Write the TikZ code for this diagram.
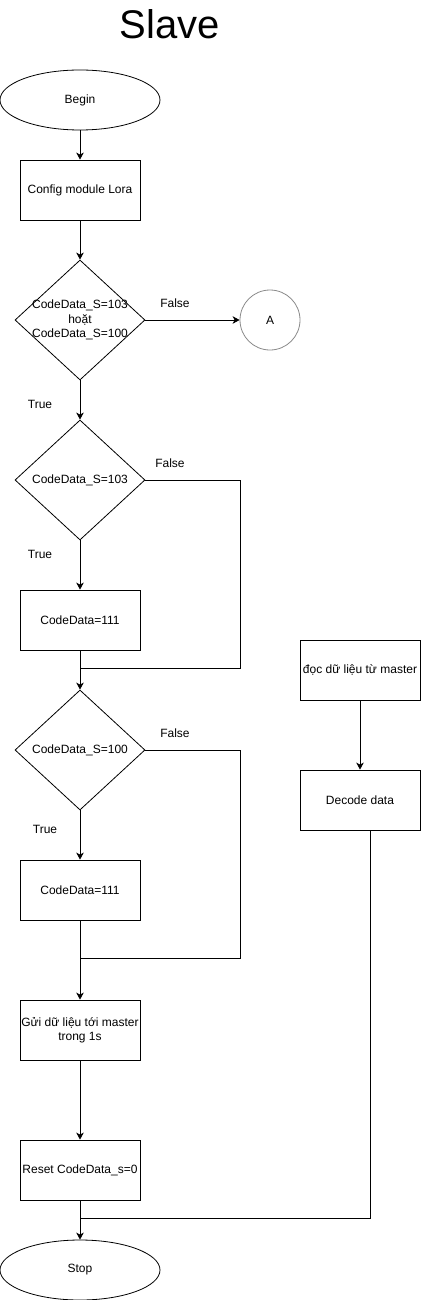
\documentclass[tikz,border=0pt]{standalone}
\usepackage{fontspec}
\setmainfont{Liberation Sans}
\usetikzlibrary{shapes.geometric,arrows.meta}

\definecolor{ringgray}{HTML}{8A8A8A}

\tikzset{
  every node/.style={font=\fontsize{12}{14.5}\selectfont},
  term/.style={draw,ellipse,minimum width=160pt,minimum height=60pt,inner sep=0pt},
  proc/.style={draw,rectangle,align=center,minimum width=120pt,minimum height=60pt,inner sep=1pt},
  decision/.style={draw,diamond,minimum width=130pt,minimum height=120pt,inner sep=0pt},
  cond/.style={align=center,inner sep=0pt},
  conn/.style={draw=ringgray,circle,minimum size=60pt,inner sep=0pt},
  lbl/.style={inner sep=1pt},
  arr/.style={-{Stealth[length=7pt,width=7.5pt,inset=2pt]}}
}

\begin{document}
\begin{tikzpicture}[x=1pt,y=-1pt,line width=0.8pt]

  % keep the page the size of the reference
  \useasboundingbox (0,0) rectangle (421,1300);

  % title
  \node[font=\fontsize{40}{44}\selectfont] (title) at (170,24) {Slave};

  % main column
  \node[term] (begin) at (80,100) {Begin};
  \node[proc] (config) at (80,190) {Config module Lora};
  \node[decision,label={[cond]center:CodeData\_S=103\\hoặt\\CodeData\_S=100}] (d1) at (80,320) {};
  \node[conn] (a) at (270,320) {A};
  \node[decision,label={[cond]center:CodeData\_S=103}] (d2) at (80,480) {};
  \node[proc] (c1) at (80,620) {CodeData=111};
  \node[decision,label={[cond]center:CodeData\_S=100}] (d3) at (80,750) {};
  \node[proc] (c2) at (80,890) {CodeData=111};
  \node[proc] (send) at (80,1030) {Gửi dữ liệu tới master\\trong 1s};
  \node[proc] (reset) at (80,1170) {Reset CodeData\_s=0};
  \node[term] (stop) at (80,1270) {Stop};

  % right column
  \node[proc] (read) at (360,670) {đọc dữ liệu từ master};
  \node[proc] (decode) at (360,800) {Decode data};

  % branch labels
  \node[lbl] (f1) at (175,303) {False};
  \node[lbl] (t1) at (40,404) {True};
  \node[lbl] (f2) at (170,463) {False};
  \node[lbl] (t2) at (40,554) {True};
  \node[lbl] (f3) at (175,733) {False};
  \node[lbl] (t3) at (45,829) {True};

  % joints of the side lines
  \coordinate (k1) at (240,668);
  \coordinate (m1) at (80,668);
  \coordinate (k2) at (240,958);
  \coordinate (m2) at (80,958);
  \coordinate (m3) at (80,1218);

  % straight arrows
  \foreach \from/\to in {begin/config, config/d1, d1/a, d1/d2, d2/c1, c1/d3,
                         d3/c2, c2/send, send/reset, reset/stop, read/decode} {
    \draw [arr] (\from) -- (\to);
  }

  % false branches back into the column
  \draw (d2.east) -| (k1) -- (m1);
  \draw (d3.east) -| (k2) -- (m2);

  % decode joins before stop
  \draw ([xshift=10pt]decode.south) |- (m3);

\end{tikzpicture}
\end{document}
